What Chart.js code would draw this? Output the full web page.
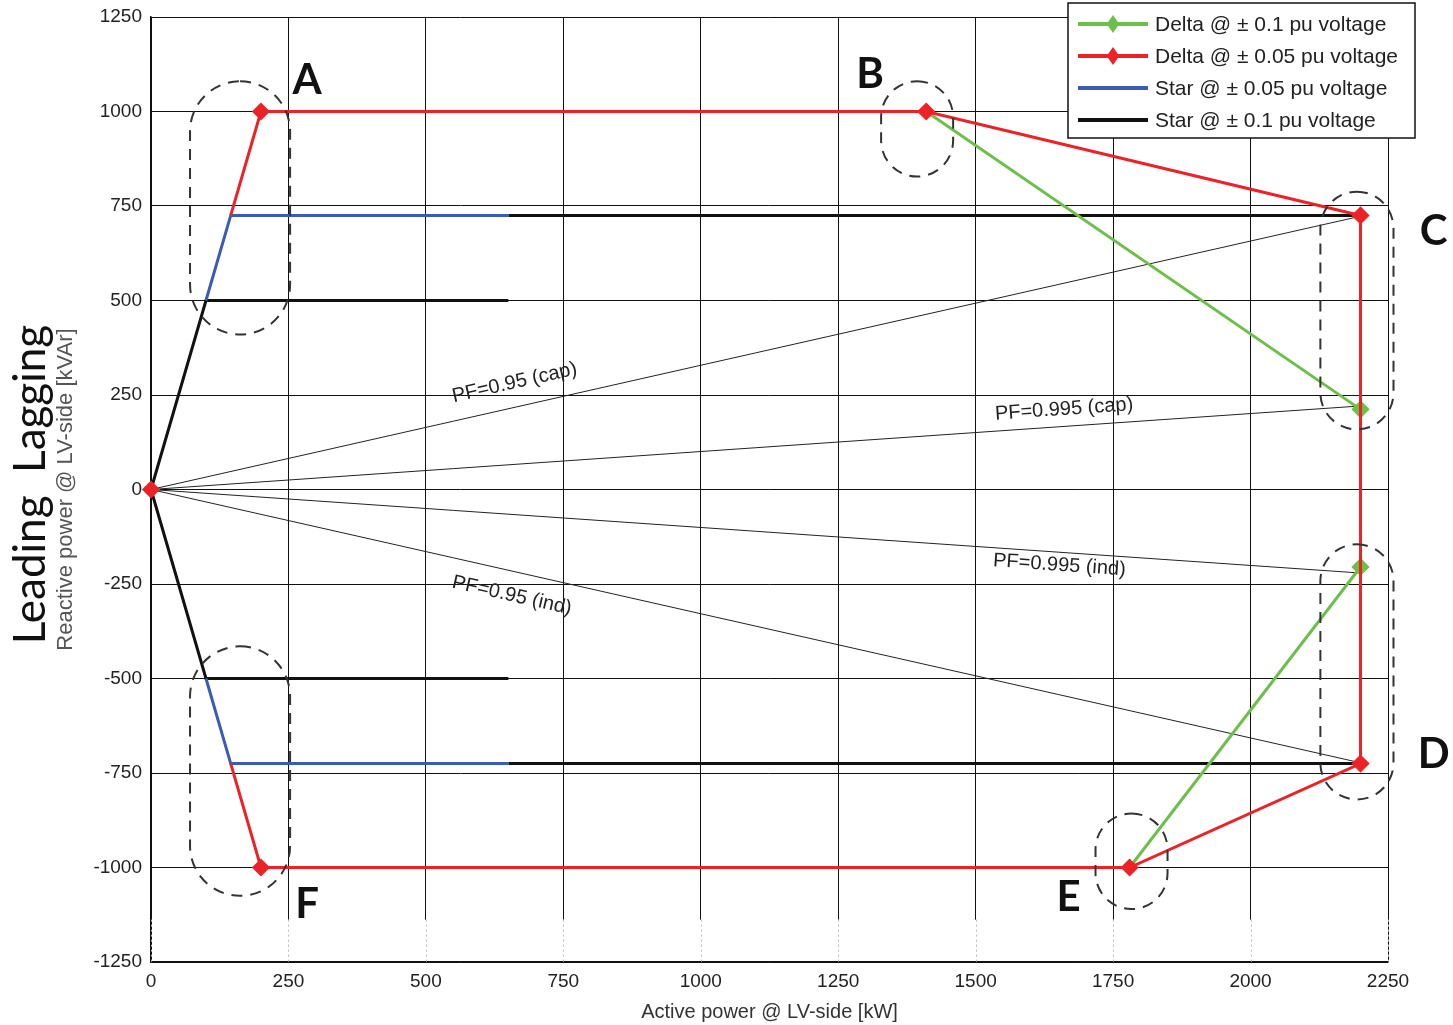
<!DOCTYPE html>
<html>
<head>
<meta charset="utf-8">
<script src="https://cdn.jsdelivr.net/npm/chart.js@4.4.0/dist/chart.umd.min.js"></script>
<style>
  html, body { margin: 0; padding: 0; background: #fff; }
  #wrap { width: 1453px; height: 1025px; }
</style>
</head>
<body>
<div id="wrap"><canvas id="pq"></canvas></div>
<script>
// values: active power [kW] vs reactive power [kVAr]
const seriesLabels = [
  "Delta @ \u00b1 0.1 pu voltage",
  "Delta @ \u00b1 0.05 pu voltage",
  "Star @ \u00b1 0.05 pu voltage",
  "Star @ \u00b1 0.1 pu voltage"
];

// Delta @ 0.05 (red) outline A-B-C-D-E-F
const delta005X = [145, 200, 1410, 2200, 2200, 1780, 200, 145];
const delta005Y = [725, 1000, 1000, 725, -725, -1000, -1000, -725];
const delta005Mark = [0, 1, 1, 1, 1, 1, 1, 0];
const originX = [0];
const originY = [0];

// Delta @ 0.1 (green)
const delta01TopX = [1410, 2200];
const delta01TopY = [1000, 212];
const delta01BotX = [2200, 1780];
const delta01BotY = [-205, -1000];

// Star @ 0.05 (blue)
const star005TopX = [100, 145, 650];
const star005TopY = [500, 725, 725];
const star005BotX = [100, 145, 650];
const star005BotY = [-500, -725, -725];

// Star @ 0.1 (black)
const star01TopX = [0, 100, 650];
const star01TopY = [0, 500, 500];
const star01BotX = [0, 100, 650];
const star01BotY = [0, -500, -500];
const star01CapX = [650, 2200];
const star01CapY = [725, 725];
const star01IndX = [650, 2200];
const star01IndY = [-725, -725];

// constant power factor lines from origin
const pfEndX = 2200;
const pfEndY = [723, 221, -221, -723];
const pfText = ["PF=0.95 (cap)", "PF=0.995 (cap)", "PF=0.995 (ind)", "PF=0.95 (ind)"];
const pointLetters = ["A", "B", "C", "D", "E", "F"];

const RED = "#ec2227", GREEN = "#6cc04a", BLUE = "#3b5cb5", BLACK = "#111111";
const SANS = "'Liberation Sans', Arial, sans-serif";

function pts(xs, ys) {
  return xs.map((x, i) => ({ x: x, y: ys[i] }));
}

function lineSet(label, xs, ys, color, extra) {
  return Object.assign({
    label: label,
    data: pts(xs, ys),
    showLine: true,
    borderColor: color,
    backgroundColor: color,
    borderWidth: 3,
    pointRadius: 0,
    pointStyle: "rectRot",
    clip: false
  }, extra || {});
}

const datasets = [
  lineSet("origin", originX, originY, RED, { pointRadius: 7 }),
  lineSet(seriesLabels[1], delta005X, delta005Y, RED, { pointRadius: delta005Mark.map(m => m ? 7 : 0) }),
  lineSet(seriesLabels[0], delta01TopX, delta01TopY, GREEN, { pointRadius: [0, 7] }),
  lineSet(seriesLabels[0], delta01BotX, delta01BotY, GREEN, { pointRadius: [7, 0] }),
  lineSet(seriesLabels[2], star005TopX, star005TopY, BLUE),
  lineSet(seriesLabels[2], star005BotX, star005BotY, BLUE),
  lineSet(seriesLabels[3], star01TopX, star01TopY, BLACK),
  lineSet(seriesLabels[3], star01BotX, star01BotY, BLACK),
  lineSet(seriesLabels[3], star01CapX, star01CapY, BLACK),
  lineSet(seriesLabels[3], star01IndX, star01IndY, BLACK)
];
pfEndY.forEach((v, i) => {
  datasets.push(lineSet(pfText[i], [0, pfEndX], [0, v], "#222", { borderWidth: 1 }));
});

// annotation placement (data units)
const marks = {
  letters: [[284, 1083], [1308, 1097], [2333, 682], [2333, -700], [1669, -1078], [284, -1097]],
  boxes: [
    [71, 253, 410, 1080], [71, 253, -1075, -415], [1328, 1459, 828, 1080],
    [2127, 2260, 159, 788], [2127, 2260, -820, -145], [1718, 1849, -1110, -857]
  ],
  pfAt: [671, 1663, 1654, 666],
  pfOffset: [24, 17, -13, -24]
};

const overlay = {
  id: "overlay",
  beforeDatasetsDraw(chart) {
    // the figure's lower strip where the vertical grid fades out
    const { ctx, chartArea: a, scales } = chart;
    const yCut = scales.y.getPixelForValue(-1138);
    ctx.save();
    ctx.fillStyle = "#fff";
    ctx.fillRect(a.left + 1, yCut, a.right - a.left - 2, a.bottom - yCut - 1);
    ctx.strokeStyle = "#bbb";
    ctx.lineWidth = 1;
    ctx.setLineDash([2, 3]);
    scales.x.ticks.forEach(t => {
      const x = Math.round(scales.x.getPixelForValue(t.value)) + 0.5;
      ctx.beginPath();
      ctx.moveTo(x, yCut);
      ctx.lineTo(x, a.bottom);
      ctx.stroke();
    });
    ctx.restore();
  },
  afterDatasetsDraw(chart) {
    const { ctx, scales } = chart;
    const sx = scales.x, sy = scales.y;
    ctx.save();

    // dashed rounded outlines around the corner points
    ctx.strokeStyle = "#333";
    ctx.lineWidth = 2;
    ctx.setLineDash([11, 8]);
    marks.boxes.forEach(b => {
      const x0 = sx.getPixelForValue(b[0]), x1 = sx.getPixelForValue(b[1]);
      const y0 = sy.getPixelForValue(b[3]), y1 = sy.getPixelForValue(b[2]);
      const w = x1 - x0, h = y1 - y0;
      ctx.beginPath();
      ctx.roundRect(x0, y0, w, h, Math.min(w, h) / 2);
      ctx.stroke();
    });
    ctx.setLineDash([]);

    // PF labels along their lines
    ctx.fillStyle = "#222";
    ctx.font = "20px " + SANS;
    ctx.textAlign = "center";
    ctx.textBaseline = "middle";
    const ox = sx.getPixelForValue(0), oy = sy.getPixelForValue(0);
    pfEndY.forEach((v, i) => {
      const ex = sx.getPixelForValue(pfEndX), ey = sy.getPixelForValue(v);
      const ang = Math.atan2(ey - oy, ex - ox);
      const ax = marks.pfAt[i];
      const px = sx.getPixelForValue(ax), py = sy.getPixelForValue(v * ax / pfEndX);
      const off = marks.pfOffset[i];
      ctx.save();
      ctx.translate(px + Math.sin(ang) * off, py - Math.cos(ang) * off);
      ctx.rotate(ang);
      ctx.fillText(pfText[i], 0, 0);
      ctx.restore();
    });

    // corner letters
    ctx.fillStyle = "#111";
    ctx.font = "bold 42px Lato, 'Open Sans', sans-serif";
    pointLetters.forEach((t, i) => {
      const p = marks.letters[i];
      ctx.fillText(t, sx.getPixelForValue(p[0]), sy.getPixelForValue(p[1]));
    });
    ctx.restore();
  },
  afterDraw(chart) {
    const { ctx, chartArea: a } = chart;
    ctx.save();

    // axis titles
    ctx.textAlign = "center";
    ctx.textBaseline = "middle";
    ctx.fillStyle = "#333";
    ctx.font = "20px " + SANS;
    ctx.fillText("Active power @ LV-side [kW]", (a.left + a.right) / 2, 1012);
    const cy = chart.scales.y.getPixelForValue(0);
    ctx.save();
    ctx.translate(66, cy);
    ctx.rotate(-Math.PI / 2);
    ctx.fillStyle = "#555";
    ctx.font = "22px " + SANS;
    ctx.fillText("Reactive power @ LV-side [kVAr]", 0, 0);
    ctx.fillStyle = "#111";
    ctx.font = "44px Lato, 'Open Sans', sans-serif";
    ctx.fillText("Leading  Lagging", 5, -35);
    ctx.restore();

    // legend box
    const lx = 1068, ly = 3, lw = 347, lh = 135;
    ctx.fillStyle = "#fff";
    ctx.fillRect(lx, ly, lw, lh);
    ctx.strokeStyle = "#111";
    ctx.lineWidth = 1.5;
    ctx.strokeRect(lx, ly, lw, lh);
    const colors = [GREEN, RED, BLUE, BLACK];
    const marker = [true, true, false, false];
    ctx.textAlign = "left";
    ctx.font = "21px " + SANS;
    seriesLabels.forEach((t, i) => {
      const y = ly + 21 + i * 32;
      ctx.strokeStyle = colors[i];
      ctx.lineWidth = 4;
      ctx.beginPath();
      ctx.moveTo(lx + 10, y);
      ctx.lineTo(lx + 80, y);
      ctx.stroke();
      if (marker[i]) {
        const cx = lx + 45, r = 9;
        ctx.fillStyle = colors[i];
        ctx.beginPath();
        ctx.moveTo(cx, y - r);
        ctx.lineTo(cx + r * 0.7, y);
        ctx.lineTo(cx, y + r);
        ctx.lineTo(cx - r * 0.7, y);
        ctx.closePath();
        ctx.fill();
      }
      ctx.fillStyle = "#222";
      ctx.fillText(t, lx + 87, y + 1);
    });
    ctx.restore();
  }
};

const tickFont = { family: SANS, size: 19 };
const plainTick = v => String(v);

new Chart(document.getElementById("pq").getContext("2d"), {
  type: "scatter",
  data: { datasets: datasets },
  options: {
    responsive: true,
    maintainAspectRatio: false,
    animation: false,
    layout: { padding: { top: 17, right: 65, bottom: 0, left: 0 } },
    plugins: { legend: { display: false }, tooltip: { enabled: false } },
    scales: {
      x: {
        type: "linear",
        min: 0,
        max: 2250,
        ticks: { stepSize: 250, font: tickFont, color: "#222", padding: 8, callback: plainTick },
        grid: { color: "#111", lineWidth: 1, drawTicks: false },
        border: { color: "#111", width: 1.5 },
        afterFit(s) { s.height = 63; s.paddingLeft = 0; s.paddingRight = 0; }
      },
      y: {
        type: "linear",
        min: -1250,
        max: 1250,
        ticks: { stepSize: 250, font: tickFont, color: "#222", padding: 9, callback: plainTick },
        grid: { color: "#111", lineWidth: 1, drawTicks: false },
        border: { color: "#111", width: 1.5 },
        afterFit(s) { s.width = 151; s.paddingTop = 0; s.paddingBottom = 0; }
      }
    }
  },
  plugins: [overlay]
});
</script>
</body>
</html>
